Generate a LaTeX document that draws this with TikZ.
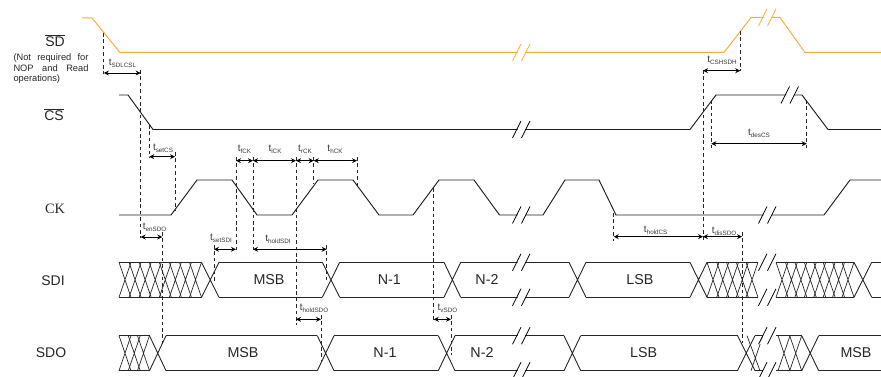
\documentclass[tikz,border=0pt]{standalone}
\usepackage{fontspec}
\setmainfont{Liberation Sans}
\newfontfamily\ckfont{Liberation Serif}
\usetikzlibrary{arrows.meta}
\definecolor{sdorange}{RGB}{250,172,66}
\definecolor{lbl}{gray}{0.22}
\tikzset{
  sig/.style={line width=0.95pt,line join=miter,color=black!88},
  sdsig/.style={line width=1pt,color=sdorange},
  bus/.style={line width=0.9pt,color=black!85},
  hat/.style={line width=0.7pt,color=black!85},
  guide/.style={line width=0.9pt,dash pattern=on 3.6pt off 2.8pt,color=black!85},
  dimline/.style={line width=0.9pt,color=black,{Stealth[length=5pt,width=5pt]}-{Stealth[length=5pt,width=5pt]}},
  name label/.style={font=\fontsize{14}{14}\selectfont,color=black!85,inner sep=0pt},
  bus label/.style={font=\fontsize{14.3}{14.3}\selectfont,color=black!85,inner sep=0pt},
  timing label/.style={inner sep=0pt,color=lbl},
}
\newcommand{\Tl}[1]{{\fontsize{10}{10}\selectfont t}\raisebox{-1.6pt}{\fontsize{6.3}{6.3}\selectfont #1}}
% name, x1, x2, y, subscript, label x, label y
\newcommand{\Dim}[7]{%
  \coordinate (#1-a) at (#2,#4);
  \coordinate (#1-b) at (#3,#4);
  \draw[dimline] (#1-a) -- (#1-b);
  \node[timing label] (#1-l) at (#6,#7) {\Tl{#5}};
}
\newcommand{\Gd}[3]{\draw[guide] (#1,#2) -- (#1,#3);}
% x (left of first slash), y centre, colour
\newcommand{\Brk}[3]{%
  \fill[white] (#1+1,#2+8.5) -- (#1+9.5,#2-8.5) -- (#1+17,#2-8.5) -- (#1+8.5,#2+8.5) -- cycle;
  \draw[line width=0.8pt,color=#3] (#1,#2+8.5) -- (#1+8.5,#2-8.5);
  \draw[line width=0.8pt,color=#3] (#1+9,#2+8.5) -- (#1+17.5,#2-8.5);
}
% x0 x1 top bot
\newcommand{\Seg}[4]{\draw[bus] (#1,#3) -- (#2,#3) (#1,#4) -- (#2,#4);}
\newcommand{\Crs}[4]{\draw[bus] (#1,#3) -- (#2,#4) (#1,#4) -- (#2,#3);}
\newcommand{\Hatch}[4]{%
  \draw[bus] (#1,#3) -- (#2,#3) (#1,#4) -- (#2,#4);
  \pgfmathtruncatemacro{\hn}{round((#2-#1-12)/9.7)}
  \pgfmathsetmacro{\hp}{(#2-#1-12)/\hn}
  \foreach \hi in {0,...,\hn}{
    \pgfmathsetmacro{\hx}{#1+\hi*\hp}
    \draw[hat] (\hx,#3) -- (\hx+12,#4) (\hx,#4) -- (\hx+12,#3);
  }
}
\begin{document}
\begin{tikzpicture}[x=1pt,y=-1pt]
\useasboundingbox (0,0) rectangle (881,377);
% row labels
\node[name label] (nSD) at (55,40.3) {$\overline{\mbox{SD}}$};
\node[inner sep=0pt,anchor=north west,align=left,font=\fontsize{9.3}{10.6}\selectfont,color=black!85] (nNote) at (13.3,53.6)
  {\makebox[75pt][s]{(Not required for}\\\makebox[75pt][s]{NOP and Read}\\operations)};
\node[name label] (nCS) at (54,115) {$\overline{\mbox{CS}}$};
\node[name label,font=\fontsize{14.3}{14.3}\selectfont\ckfont] (nCK) at (55,209) {CK};
\node[name label] (nSDI) at (53,281) {SDI};
\node[name label] (nSDO) at (51,353) {SDO};
% SD
\draw[sdsig] (82,18) -- (92,18) -- (120,52.5) -- (724,52.5) -- (751,17.5) -- (780,17.5) -- (805,52.5) -- (881,52.5);
\Brk{512.5}{52.5}{sdorange}
\Brk{758.5}{17.5}{sdorange}
% CS
\draw[sig] (119,95) -- (128,95) -- (153,129.5) -- (690,129.5) -- (716,95) -- (802,95) -- (828,129.5) -- (881,129.5);
\Brk{512.5}{129.5}{black}
\Brk{781}{95}{black}
% CK
\draw[sig] (119,215) -- (171,215) -- (197,180) -- (232,180) -- (257,215) -- (292,215) -- (318,180) -- (353,180) -- (379,215) -- (413,215) -- (439,180) -- (474,180) -- (499.5,215) -- (543,215) -- (565,180) -- (599,180) -- (616,215) -- (824,215) -- (850,180) -- (881,180);
\Brk{512.5}{215}{black}
\Brk{758.5}{215}{black}
% SDI
\Hatch{119}{201.5}{262.3}{297.3}
\Crs{201.5}{219}{262.3}{297.3}
\Seg{219}{322.3}{262.3}{297.3}
\Crs{322.3}{339.7}{262.3}{297.3}
\Seg{339.7}{444}{262.3}{297.3}
\Crs{444}{460.7}{262.3}{297.3}
\Seg{460.7}{569}{262.3}{297.3}
\Crs{569}{586}{262.3}{297.3}
\Seg{586}{690}{262.3}{297.3}
\Crs{690}{707}{262.3}{297.3}
\Hatch{707}{758}{262.3}{297.3}
\Hatch{776}{854}{262.3}{297.3}
\Crs{854}{871.7}{262.3}{297.3}
\Seg{871.7}{881}{262.3}{297.3}
\Brk{512.5}{262.3}{black}
\Brk{512.5}{297.3}{black}
\Brk{758.5}{262.3}{black}
\Brk{758.5}{297.3}{black}
% SDO
\Hatch{119}{149.5}{335.7}{370.7}
\Crs{149.5}{166}{335.7}{370.7}
\Seg{166}{317.3}{335.7}{370.7}
\Crs{317.3}{334}{335.7}{370.7}
\Seg{334}{438.3}{335.7}{370.7}
\Crs{438.3}{455}{335.7}{370.7}
\Seg{455}{564}{335.7}{370.7}
\Crs{564}{580.7}{335.7}{370.7}
\Seg{580.7}{737.5}{335.7}{370.7}
\Crs{737.5}{755}{335.7}{370.7}
\Seg{755}{763}{335.7}{370.7}
\draw[hat] (747,335.7) -- (760,370.7) (751,370.7) -- (763,335.7);
\Hatch{778}{801.7}{335.7}{370.7}
\Seg{776}{778}{335.7}{370.7}
\Crs{801.7}{818.7}{335.7}{370.7}
\Seg{818.7}{881}{335.7}{370.7}
\Brk{512.5}{335.7}{black}
\Brk{512.5}{370.7}{black}
\Brk{758.5}{335.7}{black}
\Brk{758.5}{370.7}{black}
% bus texts
\node[bus label] (d1) at (269,280) {MSB};
\node[bus label] (d2) at (389.3,280) {N-1};
\node[bus label] (d3) at (487,280) {N-2};
\node[bus label] (d4) at (640,280) {LSB};
\node[bus label] (o1) at (243,353) {MSB};
\node[bus label] (o2) at (385,353) {N-1};
\node[bus label] (o3) at (482,353) {N-2};
\node[bus label] (o4) at (643.7,353) {LSB};
\node[bus label] (o5) at (856,353) {MSB};
% guides
\Gd{103.8}{33}{74}
\Gd{140.7}{70}{238}
\Gd{149.3}{125}{158}
\Gd{175}{152}{210}
\Gd{236}{157}{253}
\Gd{253}{157}{253}
\Gd{296}{157}{325}
\Gd{313.7}{157}{184}
\Gd{357}{157}{187}
\Gd{162.3}{232}{345}
\Gd{214}{245}{283}
\Gd{326.7}{245}{280}
\Gd{321}{315}{360}
\Gd{433.8}{188}{321}
\Gd{451}{315}{355}
\Gd{613.7}{213}{241}
\Gd{703}{70}{241}
\Gd{742}{232}{343}
\Gd{740.3}{31}{71}
\Gd{711.3}{100}{148}
\Gd{806.7}{100}{148}
% timing arrows
\Dim{sdl}{103.8}{140.7}{73}{SDLCSL}{122.5}{63.5}
\Dim{setcs}{149.3}{175}{156.7}{setCS}{163}{148}
\Dim{fck}{236}{253}{160.7}{fCK}{244.5}{149.5}
\Dim{lck}{253}{296}{160.7}{lCK}{275}{149.5}
\Dim{rck}{296}{313.7}{160.7}{rCK}{305}{149.5}
\Dim{hck}{313.7}{357}{160.7}{hCK}{335}{149.5}
\Dim{ensdo}{140.7}{162.3}{237}{enSDO}{154.5}{227}
\Dim{setsdi}{214}{236}{249.3}{setSDI}{221}{238}
\Dim{holdsdi}{253}{326.7}{249.3}{holdSDI}{278}{239}
\Dim{holdsdo}{296}{321}{319.3}{holdSDO}{314}{308}
\Dim{vsdo}{433.8}{451}{319.3}{vSDO}{447.5}{308}
\Dim{holdcs}{613.7}{703}{236.7}{holdCS}{655.7}{230}
\Dim{dissdo}{703}{742}{236.7}{disSDO}{724}{231}
\Dim{cshsdh}{703}{740.3}{70.7}{CSHSDH}{722}{60}
\Dim{descs}{711.3}{806.7}{143.7}{desCS}{759}{133}
\end{tikzpicture}
\end{document}
